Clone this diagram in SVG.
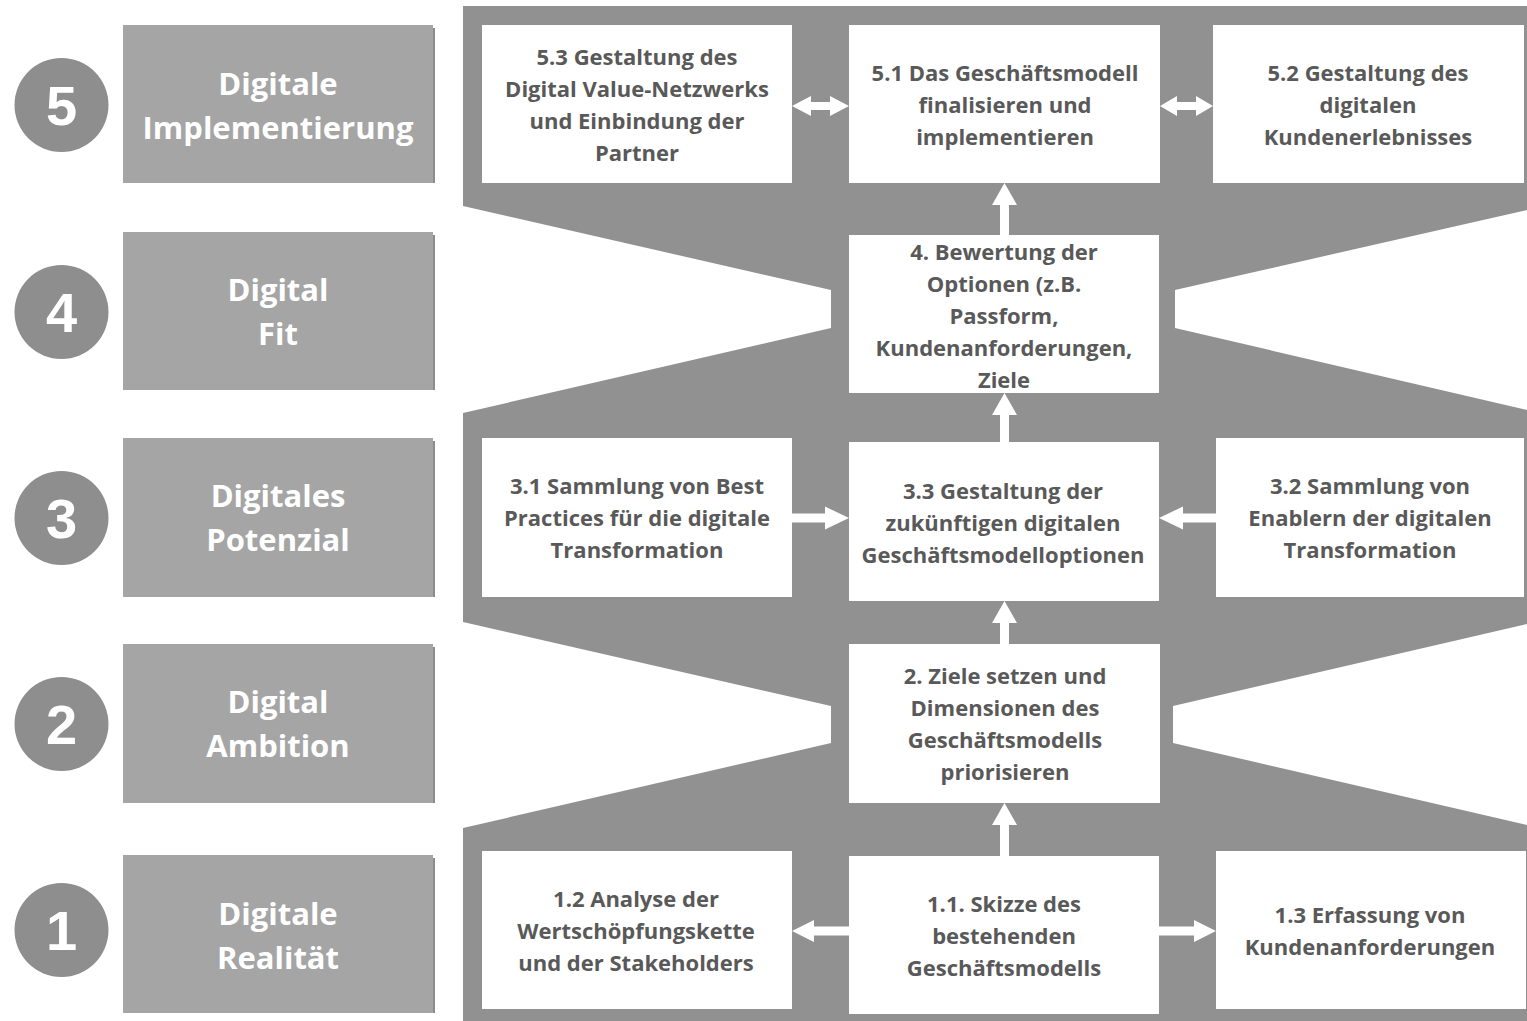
<svg xmlns="http://www.w3.org/2000/svg" width="1527" height="1021" viewBox="0 0 1527 1021">
  <style>
    .band { fill: #919191; }
    .step { fill: #ffffff; }
    .phase { fill: #a5a5a5; }
    .phase-edge { fill: #8c8c8c; }
    .badge { fill: #8e8e8e; }
    .badge-num { font-family: "Liberation Sans", Arial, sans-serif; font-weight: bold; font-size: 56px; fill: #ffffff; text-anchor: middle; }
    .phase-text { font-family: "Open Sans", Lato, sans-serif; font-weight: bold; font-size: 31px; fill: #ffffff; text-anchor: middle; }
    .step-text { font-family: "Open Sans", Lato, sans-serif; font-weight: bold; font-size: 22px; fill: #595959; text-anchor: middle; }
    .arrow { fill: #ffffff; }
  </style>

  <rect width="1527" height="1021" fill="#ffffff"/>

  <!-- hourglass-shaped backdrop behind the process steps -->
  <path class="band" d="M463,6 L1527,6 L1527,210 L1175,290 L1175,328 L1527,410 L1527,624 L1173,706 L1173,743 L1527,825 L1527,1021 L463,1021 L463,828 L831,743 L831,706 L463,622 L463,413 L831,328 L831,290 L463,206 Z"/>

  <!-- phase badges and titles -->
  <g id="phase-5">
    <circle class="badge" cx="61.5" cy="105" r="47"/>
    <text class="badge-num" x="61.5" y="125">5</text>
    <rect class="phase-edge" x="431" y="28" width="4" height="155"/>
    <rect class="phase" x="123" y="25" width="310" height="158"/>
    <text class="phase-text" x="278"><tspan x="278" y="95">Digitale</tspan><tspan x="278" y="139">Implementierung</tspan></text>
  </g>
  <g id="phase-4">
    <circle class="badge" cx="61.5" cy="312" r="47"/>
    <text class="badge-num" x="61.5" y="332">4</text>
    <rect class="phase-edge" x="431" y="235" width="4" height="155"/>
    <rect class="phase" x="123" y="232" width="310" height="158"/>
    <text class="phase-text" x="278"><tspan x="278" y="301">Digital</tspan><tspan x="278" y="345">Fit</tspan></text>
  </g>
  <g id="phase-3">
    <circle class="badge" cx="61.5" cy="518" r="47"/>
    <text class="badge-num" x="61.5" y="538">3</text>
    <rect class="phase-edge" x="431" y="441" width="4" height="156"/>
    <rect class="phase" x="123" y="438" width="310" height="159"/>
    <text class="phase-text" x="278"><tspan x="278" y="507">Digitales</tspan><tspan x="278" y="551">Potenzial</tspan></text>
  </g>
  <g id="phase-2">
    <circle class="badge" cx="61.5" cy="724" r="47"/>
    <text class="badge-num" x="61.5" y="744">2</text>
    <rect class="phase-edge" x="431" y="647" width="4" height="156"/>
    <rect class="phase" x="123" y="644" width="310" height="159"/>
    <text class="phase-text" x="278"><tspan x="278" y="713">Digital</tspan><tspan x="278" y="757">Ambition</tspan></text>
  </g>
  <g id="phase-1">
    <circle class="badge" cx="61.5" cy="930" r="47"/>
    <text class="badge-num" x="61.5" y="950">1</text>
    <rect class="phase-edge" x="431" y="858" width="4" height="155"/>
    <rect class="phase" x="123" y="855" width="310" height="158"/>
    <text class="phase-text" x="278"><tspan x="278" y="925">Digitale</tspan><tspan x="278" y="969">Realität</tspan></text>
  </g>

  <!-- process steps -->
  <g id="step-5-3">
    <rect class="step" x="482" y="25" width="310" height="158"/>
    <text class="step-text"><tspan x="637" y="65">5.3 Gestaltung des</tspan><tspan x="637" y="97">Digital Value-Netzwerks</tspan><tspan x="637" y="129">und Einbindung der</tspan><tspan x="637" y="161">Partner</tspan></text>
  </g>
  <g id="step-5-1">
    <rect class="step" x="849" y="25" width="311" height="158"/>
    <text class="step-text"><tspan x="1005" y="81">5.1 Das Geschäftsmodell</tspan><tspan x="1005" y="113">finalisieren und</tspan><tspan x="1005" y="145">implementieren</tspan></text>
  </g>
  <g id="step-5-2">
    <rect class="step" x="1213" y="25" width="311" height="158"/>
    <text class="step-text"><tspan x="1368" y="81">5.2 Gestaltung des</tspan><tspan x="1368" y="113">digitalen</tspan><tspan x="1368" y="145">Kundenerlebnisses</tspan></text>
  </g>
  <g id="step-4">
    <rect class="step" x="849" y="235" width="310" height="158"/>
    <text class="step-text"><tspan x="1004" y="260">4. Bewertung der</tspan><tspan x="1004" y="292">Optionen (z.B.</tspan><tspan x="1004" y="324">Passform,</tspan><tspan x="1004" y="356">Kundenanforderungen,</tspan><tspan x="1004" y="388">Ziele</tspan></text>
  </g>
  <g id="step-3-1">
    <rect class="step" x="482" y="438" width="310" height="159"/>
    <text class="step-text"><tspan x="637" y="494">3.1 Sammlung von Best</tspan><tspan x="637" y="526">Practices für die digitale</tspan><tspan x="637" y="558">Transformation</tspan></text>
  </g>
  <g id="step-3-3">
    <rect class="step" x="849" y="442" width="310" height="159"/>
    <text class="step-text"><tspan x="1003" y="499">3.3 Gestaltung der</tspan><tspan x="1003" y="531">zukünftigen digitalen</tspan><tspan x="1003" y="563">Geschäftsmodelloptionen</tspan></text>
  </g>
  <g id="step-3-2">
    <rect class="step" x="1216" y="438" width="308" height="159"/>
    <text class="step-text"><tspan x="1370" y="494">3.2 Sammlung von</tspan><tspan x="1370" y="526">Enablern der digitalen</tspan><tspan x="1370" y="558">Transformation</tspan></text>
  </g>
  <g id="step-2">
    <rect class="step" x="849" y="644" width="311" height="159"/>
    <text class="step-text"><tspan x="1005" y="684">2. Ziele setzen und</tspan><tspan x="1005" y="716">Dimensionen des</tspan><tspan x="1005" y="748">Geschäftsmodells</tspan><tspan x="1005" y="780">priorisieren</tspan></text>
  </g>
  <g id="step-1-2">
    <rect class="step" x="482" y="851" width="310" height="158"/>
    <text class="step-text"><tspan x="636" y="907">1.2 Analyse der</tspan><tspan x="636" y="939">Wertschöpfungskette</tspan><tspan x="636" y="971">und der Stakeholders</tspan></text>
  </g>
  <g id="step-1-1">
    <rect class="step" x="849" y="856" width="310" height="158"/>
    <text class="step-text"><tspan x="1004" y="912">1.1. Skizze des</tspan><tspan x="1004" y="944">bestehenden</tspan><tspan x="1004" y="976">Geschäftsmodells</tspan></text>
  </g>
  <g id="step-1-3">
    <rect class="step" x="1216" y="851" width="310" height="158"/>
    <text class="step-text"><tspan x="1370" y="923">1.3 Erfassung von</tspan><tspan x="1370" y="955">Kundenanforderungen</tspan></text>
  </g>

  <!-- block arrows between steps -->
  <g id="connectors">
    <!-- 5.3 <-> 5.1 -->
    <path class="arrow" d="M792,106 L811,96 L811,102 L830,102 L830,96 L849,106 L830,116 L830,110 L811,110 L811,116 Z"/>
    <!-- 5.1 <-> 5.2 -->
    <path class="arrow" d="M1160,106 L1177,96 L1177,102 L1196,102 L1196,96 L1213,106 L1196,116 L1196,110 L1177,110 L1177,116 Z"/>
    <!-- 4 -> 5.1 -->
    <path class="arrow" d="M1004.5,183 L1017,205 L1009,205 L1009,235 L1000,235 L1000,205 L992,205 Z"/>
    <!-- 3.3 -> 4 -->
    <path class="arrow" d="M1004.5,393 L1017,415 L1009,415 L1009,442 L1000,442 L1000,415 L992,415 Z"/>
    <!-- 2 -> 3.3 -->
    <path class="arrow" d="M1004.5,601 L1017,623 L1009,623 L1009,644 L1000,644 L1000,623 L992,623 Z"/>
    <!-- 1.1 -> 2 -->
    <path class="arrow" d="M1004.5,803 L1017,825 L1009,825 L1009,856 L1000,856 L1000,825 L992,825 Z"/>
    <!-- 3.1 -> 3.3 -->
    <path class="arrow" d="M849,518 L825,506.5 L825,513.5 L792,513.5 L792,522.5 L825,522.5 L825,529.5 Z"/>
    <!-- 3.2 -> 3.3 -->
    <path class="arrow" d="M1159,518 L1183,506.5 L1183,513.5 L1216,513.5 L1216,522.5 L1183,522.5 L1183,529.5 Z"/>
    <!-- 1.1 -> 1.2 -->
    <path class="arrow" d="M792,931 L814,920 L814,926.5 L849,926.5 L849,935.5 L814,935.5 L814,942 Z"/>
    <!-- 1.1 -> 1.3 -->
    <path class="arrow" d="M1216,931 L1194,920 L1194,926.5 L1159,926.5 L1159,935.5 L1194,935.5 L1194,942 Z"/>
  </g>
</svg>
